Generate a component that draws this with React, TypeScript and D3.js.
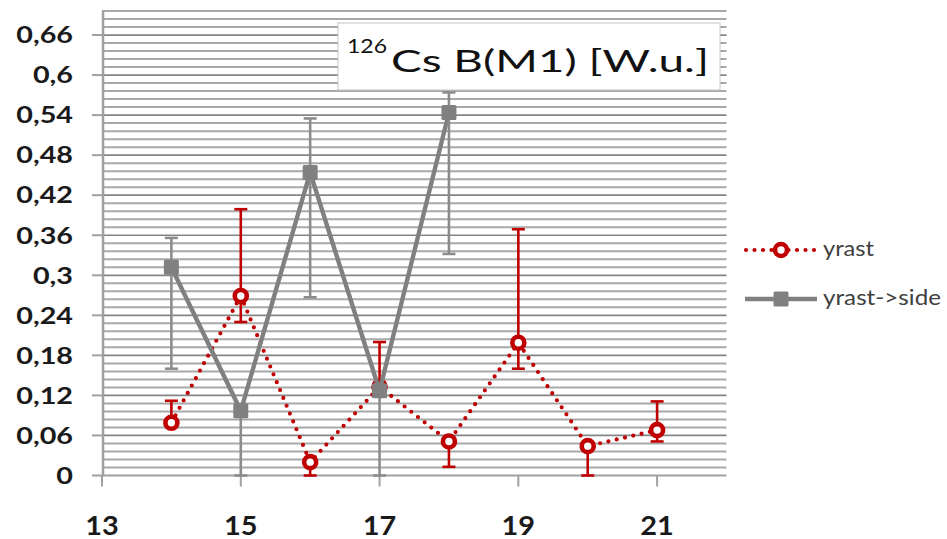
import React from "react";
import * as d3 from "d3";

const xValues = [14, 15, 16, 17, 18, 19, 20, 21];
const yrast = [0.079, 0.269, 0.02, 0.133, 0.051, 0.199, 0.044, 0.068];
const yrastHi: (number | null)[] = [0.112, 0.399, null, 0.2, null, 0.369, null, 0.111];
const yrastLo: (number | null)[] = [null, 0.23, 0, null, 0.013, 0.16, 0, 0.051];

const sideX = [14, 15, 16, 17, 18];
const side = [0.312, 0.097, 0.454, 0.127, 0.544];
const sideHi: (number | null)[] = [0.356, null, 0.535, null, 0.574];
const sideLo: (number | null)[] = [0.16, 0, 0.267, 0, 0.332];

const yTicks = [0, 0.06, 0.12, 0.18, 0.24, 0.3, 0.36, 0.42, 0.48, 0.54, 0.6, 0.66];
const xTicks = [13, 15, 17, 19, 21];
const legendLabels = ["yrast", "yrast->side"];
const titleSup = "126";
const titleMain = "Cs B(M1) [W.u.]";

const W = 947;
const H = 539;
const RED = "#c00000";
const GRAY = "#808080";
const FONT = "Lato, 'Open Sans', sans-serif";

export default function App() {
  const x = d3.scaleLinear().domain([13, 22]).range([102, 726.5]);
  const y = d3.scaleLinear().domain([0, 0.696]).range([475.5, 11]);

  const minor = d3.range(1, 59).map((i) => i * 0.012);
  const fmt = (v: number) => String(+v.toFixed(2)).replace(".", ",");

  const lineGen = d3
    .line<[number, number]>()
    .x((d) => x(d[0]))
    .y((d) => y(d[1]));

  const redPts: [number, number][] = xValues.map((v, i) => [v, yrast[i]]);
  const grayPts: [number, number][] = sideX.map((v, i) => [v, side[i]]);

  const errBars = (
    xs: number[],
    vals: number[],
    hi: (number | null)[],
    lo: (number | null)[],
    color: string,
    key: string
  ) =>
    xs.map((v, i) => {
      const px = x(v);
      const parts: JSX.Element[] = [];
      const cw = 6.5;
      if (hi[i] != null) {
        const py = y(hi[i] as number);
        parts.push(
          <line key={key + "h" + i} x1={px} x2={px} y1={y(vals[i])} y2={py} stroke={color} strokeWidth={2.6} />,
          <line key={key + "hc" + i} x1={px - cw} x2={px + cw} y1={py} y2={py} stroke={color} strokeWidth={2.6} />
        );
      }
      if (lo[i] != null) {
        const py = y(lo[i] as number);
        parts.push(
          <line key={key + "l" + i} x1={px} x2={px} y1={y(vals[i])} y2={py} stroke={color} strokeWidth={2.6} />,
          <line key={key + "lc" + i} x1={px - cw} x2={px + cw} y1={py} y2={py} stroke={color} strokeWidth={2.6} />
        );
      }
      return <g key={key + i}>{parts}</g>;
    });

  return (
    <svg
      width={W}
      height={H}
      style={{ position: "absolute", left: 0, top: 0, display: "block", background: "#fff" }}
      fontFamily={FONT}
    >
      <rect x={0} y={0} width={W} height={H} fill="#fff" />
      {/* gridlines */}
      {minor.map((v, i) => {
        const major = Math.abs(v / 0.06 - Math.round(v / 0.06)) < 1e-6;
        return (
          <line
            key={"g" + i}
            x1={x(13)}
            x2={x(22)}
            y1={y(v)}
            y2={y(v)}
            stroke={major ? "#858585" : "#a8a8a8"}
            strokeWidth={major ? 1.7 : 2}
          />
        );
      })}
      {/* axes */}
      <line x1={x(13) + 1} x2={x(13) + 1} y1={y(0.696)} y2={y(0)} stroke="#a0a0a0" strokeWidth={2.5} />
      <line x1={x(13)} x2={x(22)} y1={y(0)} y2={y(0)} stroke="#a0a0a0" strokeWidth={2.2} />
      {yTicks.map((t) => (
        <line key={"yt" + t} x1={92} x2={x(13)} y1={y(t)} y2={y(t)} stroke="#a0a0a0" strokeWidth={2} />
      ))}
      {xTicks.map((t) => (
        <line key={"xt" + t} x1={x(t)} x2={x(t)} y1={y(0)} y2={y(0) + 11} stroke="#a0a0a0" strokeWidth={2} />
      ))}
      {yTicks.map((t) => (
        <g key={"yl" + t} transform={`translate(73,${y(t) + 8.3}) scale(1.25,1)`}>
          <text textAnchor="end" fontSize={23} fontWeight={700} fill="#1a1a1a">
            {fmt(t)}
          </text>
        </g>
      ))}
      {xTicks.map((t) => (
        <g key={"xl" + t} transform={`translate(${x(t)},534.5) scale(1.07,1)`}>
          <text textAnchor="middle" fontSize={27} fontWeight={700} fill="#1a1a1a">
            {t}
          </text>
        </g>
      ))}

      {/* title box */}
      <rect x={338} y={23} width={382} height={67} fill="#fff" stroke="#c4c4c4" strokeWidth={1} />
      <text x={347} y={53} fontSize={19.5} fill="#111" textLength={40} lengthAdjust="spacingAndGlyphs">
        {titleSup}
      </text>
      <text x={391} y={72} fontSize={30.5} fill="#111" textLength={318} lengthAdjust="spacingAndGlyphs">
        {titleMain}
      </text>

      {/* yrast series */}
      <path
        d={lineGen(redPts) || ""}
        fill="none"
        stroke={RED}
        strokeWidth={4.2}
        strokeDasharray="0 8.5"
        strokeLinecap="round"
      />
      {errBars(xValues, yrast, yrastHi, yrastLo, RED, "r")}
      {redPts.map((p, i) => (
        <circle key={"rc" + i} cx={x(p[0])} cy={y(p[1])} r={6} fill="#fff" stroke={RED} strokeWidth={4.6} />
      ))}

      {/* yrast->side series */}
      <path d={lineGen(grayPts) || ""} fill="none" stroke={GRAY} strokeWidth={4.4} strokeLinejoin="miter" />
      {errBars(sideX, side, sideHi, sideLo, "#8c8c8c", "s")}
      {grayPts.map((p, i) => (
        <rect key={"gs" + i} x={x(p[0]) - 7.5} y={y(p[1]) - 7.5} width={15} height={15} rx={1.5} fill={GRAY} />
      ))}

      {/* legend */}
      <line x1={746} x2={816} y1={250} y2={250} stroke={RED} strokeWidth={4.2} strokeDasharray="0 8.5" strokeLinecap="round" />
      <circle cx={781} cy={250} r={6} fill="#fff" stroke={RED} strokeWidth={4.6} />
      <text x={823} y={256} fontSize={22} fill="#404040" textLength={51} lengthAdjust="spacingAndGlyphs">
        {legendLabels[0]}
      </text>
      <line x1={745} x2={817} y1={299} y2={299} stroke={GRAY} strokeWidth={4.4} />
      <rect x={773.5} y={291.5} width={15} height={15} rx={1.5} fill={GRAY} />
      <text x={823} y={305} fontSize={22} fill="#404040" textLength={118} lengthAdjust="spacingAndGlyphs">
        {legendLabels[1]}
      </text>
    </svg>
  );
}
